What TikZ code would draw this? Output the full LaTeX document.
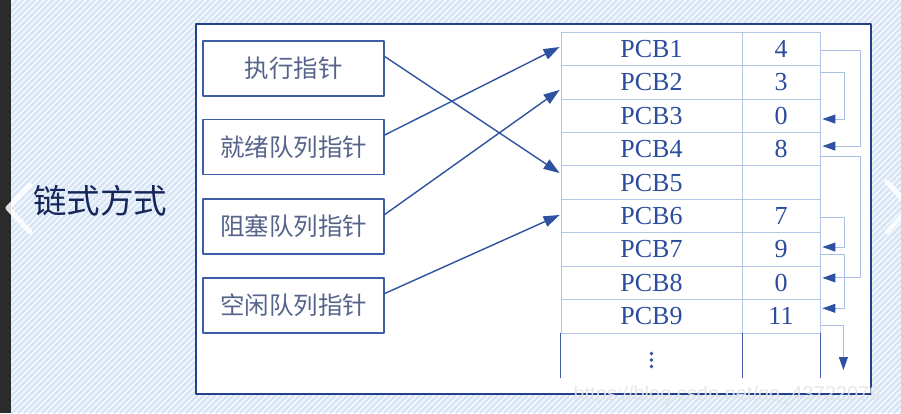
\documentclass[tikz,border=0pt]{standalone}
\usepackage{fontspec}
\setmainfont{Liberation Serif}
\newfontfamily\cjk{Noto Sans CJK SC}
\newfontfamily\wmfont{Liberation Sans}
\usetikzlibrary{arrows.meta}
\definecolor{bgblue}{HTML}{F1F6FC}
\definecolor{stripeblue}{HTML}{D5E3F4}
\definecolor{darkstrip}{HTML}{2B2B2B}
\definecolor{frameblue}{HTML}{23408A}
\definecolor{boxblue}{HTML}{3D5DA6}
\definecolor{ptrtext}{HTML}{56648C}
\definecolor{titleblue}{HTML}{15265A}
\definecolor{pcbtext}{HTML}{2C4D9D}
\definecolor{celline}{HTML}{B3C6E6}
\definecolor{linkblue}{HTML}{A9BFE3}
\definecolor{tipblue}{HTML}{2F52A0}
\begin{document}
\begin{tikzpicture}[line join=round,line cap=round,x=1pt,y=-1pt]
	\tikzset{every node/.style={inner sep=0pt},
		ptrbox/.style={draw=boxblue,fill=white,line width=1.4pt,minimum width=181pt,minimum height=55pt,font=\cjk\fontsize{24.5}{24.5}\selectfont,text=ptrtext},
		pcbcell/.style={draw=celline,line width=0.8pt,minimum height=33.45pt,font=\fontsize{26}{26}\selectfont,text=pcbtext},
		link/.style={draw=linkblue,line width=0.9pt,-{Triangle[length=13pt,width=9pt,color=tipblue]}},
		ptr/.style={draw=tipblue,line width=1.4pt,-{Triangle[length=16pt,width=11pt]}},
		chevron/.style={draw=white,line width=5pt,opacity=0.85}}
	\useasboundingbox (0,0) rectangle (901,413);
	\begin{scope}
		\clip (0,0) rectangle (901,413);
		\fill[bgblue] (0,0) rectangle (901,413);
		\foreach \x in {-420,-414,...,906}
		\draw[stripeblue,line width=2pt] (\x,413)--++(413,-413);
		\fill[darkstrip] (0,0) rectangle (11,413);
		\draw[chevron] (30,185)--(8,208)--(30,232);
		\draw[chevron] (887,182)--(910,207)--(887,232);
	\end{scope}
	\node[draw=frameblue,fill=white,line width=1.5pt,minimum width=675pt,minimum height=370pt] (frame) at (533.5,209) {};
	\node[font=\cjk\fontsize{33.5}{33.5}\selectfont,text=titleblue] (title) at (100,201) {链式方式};
	\node[ptrbox] (b1) at (293.5,68.5) {执行指针};
	\node[ptrbox] (b2) at (293.5,147) {就绪队列指针};
	\node[ptrbox] (b3) at (293.5,226.5) {阻塞队列指针};
	\node[ptrbox] (b4) at (293.5,305.5) {空闲队列指针};
	\foreach \i/\v in {1/4,2/3,3/0,4/8,5/,6/7,7/9,8/0,9/11}{
		\node[pcbcell,minimum width=181pt] (p\i) at (651.5,{32+33.45*(\i-0.5)}) {PCB\i};
		\node[pcbcell,minimum width=78pt] (v\i) at (781,{32+33.45*(\i-0.5)}) {\v};
	}
	\foreach \c in {p9.south west,p9.south east,v9.south east}
	\draw[boxblue,line width=1.3pt] (\c)--++(0,44);
	\foreach \k in {0,1,2}
	\fill[pcbtext] (651.5,{353.5+6.5*\k}) circle (1.9pt);
	\foreach \b/\p/\s in {1/5/9.5,2/1/1.7,3/2/-7.8,4/6/1}
	\draw[ptr] ([yshift=12pt]b\b.east)--([yshift=\s pt,xshift=-1pt]p\p.west);
	\foreach \f/\t/\a/\e/\d in {1/4/-1.3/3/40,2/3/10/-3.4/24,4/8/-7/5/40,6/7/-1/2.4/24,7/9/-4.6/8/24}
	\draw[link] ([yshift=\a pt]v\f.east)--++(\d,0)|-([yshift=\e pt,xshift=2pt]v\t.east);
	\draw[link] ([yshift=-8.7pt]v9.east)--++(23,0)--++(0,45);
	\node[font=\wmfont\fontsize{20}{20}\selectfont,text=white!80!gray,opacity=0.9] (wm) at (727,395) {https://blog.csdn.net/qq\_43722079};
\end{tikzpicture}
\end{document}
